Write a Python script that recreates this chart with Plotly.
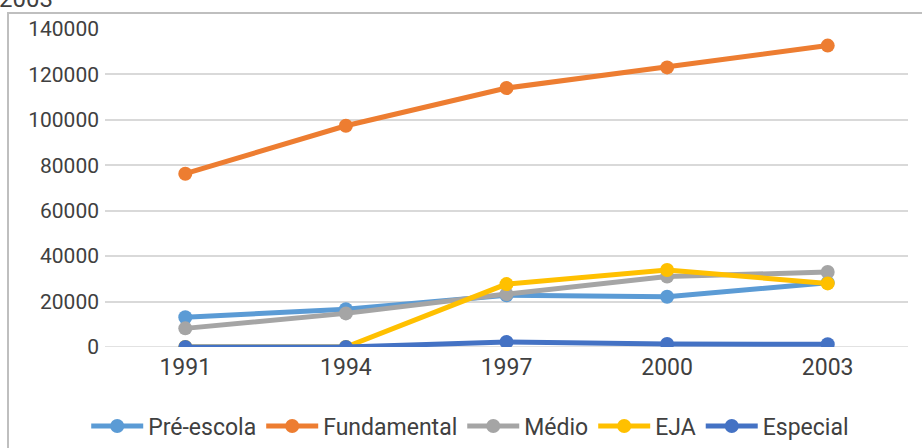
import plotly.graph_objects as go

# Enrollment series by census year
years = ["1991", "1994", "1997", "2000", "2003"]
pre_escola = [13100, 16600, 22800, 22100, 28300]
fundamental = [76300, 97400, 114000, 123100, 132700]
medio = [8200, 14800, 23300, 31000, 33000]
eja = [0, 0, 27700, 33900, 28000]
especial = [0, 0, 2200, 1300, 1200]

y_ticks = [0, 20000, 40000, 60000, 80000, 100000, 120000, 140000]

series = [
    ("Pré-escola", pre_escola, "#5B9BD5"),
    ("Fundamental", fundamental, "#ED7D31"),
    ("Médio", medio, "#A5A5A5"),
    ("EJA", eja, "#FFC000"),
    ("Especial", especial, "#4472C4"),
]

FONT = "Liberation Sans Narrow, Roboto, Arial, sans-serif"
TEXT = "#404040"

fig = go.Figure()
for name, vals, color in series:
    fig.add_trace(go.Scatter(
        x=years, y=vals, name=name, mode="lines+markers",
        line=dict(color=color, width=5),
        marker=dict(color=color, size=14),
    ))

W, H = 922, 448
L, R, T, B = 105, 14, 29, 101
pw, ph = W - L - R, H - T - B


def px_x(p):
    return (p - L) / pw


def px_y(p):
    return (H - B - p) / ph


fig.update_layout(
    width=W, height=H,
    margin=dict(l=L, r=R, t=T, b=B),
    paper_bgcolor="white", plot_bgcolor="white",
    font=dict(family=FONT, size=22, color=TEXT),
    showlegend=True,
    legend=dict(
        orientation="h", xref="container", yref="container",
        x=0.51, xanchor="center", y=22 / H, yanchor="middle",
        itemwidth=52, font=dict(size=23, color=TEXT),
        bgcolor="rgba(0,0,0,0)",
    ),
    xaxis=dict(
        type="category", range=[-0.5, 4.5], showgrid=False,
        showline=False, zeroline=False, ticks="", ticklabelstandoff=4,
        tickfont=dict(size=23, color=TEXT),
    ),
    yaxis=dict(
        range=[0, 140000], tickvals=y_ticks,
        ticktext=[str(v) for v in y_ticks],
        showgrid=True, gridcolor="#D9D9D9", gridwidth=1.5,
        zeroline=False, showline=False, ticks="", ticklabelstandoff=5,
        tickfont=dict(size=21, color=TEXT),
    ),
    shapes=[
        dict(type="rect", xref="paper", yref="paper",
             x0=px_x(8), x1=px_x(940), y0=px_y(470), y1=px_y(13),
             line=dict(color="#BFBFBF", width=2), fillcolor="rgba(0,0,0,0)",
             layer="below"),
    ],
    annotations=[
        dict(text="2003", xref="paper", yref="paper",
             x=px_x(-3), xanchor="left", y=px_y(15), yanchor="bottom",
             showarrow=False, font=dict(size=24, color=TEXT)),
    ],
)

# Zero gridline drawn as a line across the plot
fig.add_shape(type="line", xref="paper", yref="y", x0=0, x1=1, y0=0, y1=0,
              line=dict(color="#D9D9D9", width=1.5), layer="below")

fig.write_html("out.html")
